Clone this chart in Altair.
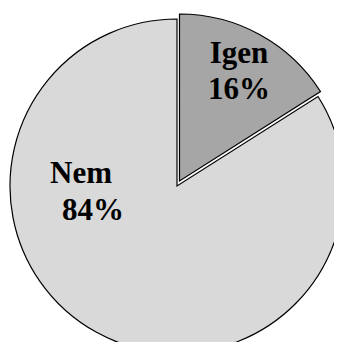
import altair as alt
import pandas as pd

categories = ["Igen", "Nem"]
values = [16, 84]
colors = ["#A6A6A6", "#D9D9D9"]

df = pd.DataFrame({"cat": categories, "val": values, "order": [0, 1]})

CX, CY, R = 169, 178, 167
FONT = "Liberation Serif"

base = alt.Chart(df).transform_joinaggregate(
    total="sum(val)"
).transform_window(
    cum="sum(val)", sort=[alt.SortField("order")]
).transform_calculate(
    start="(datum.cum - datum.val) / datum.total * 100",
    end="datum.cum / datum.total * 100",
    pct="format(datum.val / datum.total * 100, '.0f') + '%'",
)

theta_scale = alt.Scale(domain=[0, 100], range=[0, 6.283185307179586])
color_scale = alt.Scale(domain=categories, range=colors)

def arc(cat, xo, yo):
    return base.transform_filter(alt.datum.cat == cat).mark_arc(
        x=CX, y=CY, outerRadius=R, stroke="black", strokeWidth=1.2,
        xOffset=xo, yOffset=yo,
    ).encode(
        theta=alt.Theta("start:Q", scale=theta_scale),
        theta2="end:Q",
        color=alt.Color("cat:N", scale=color_scale, legend=None),
    )

def txt(cat, field, x, y):
    return base.transform_filter(alt.datum.cat == cat).mark_text(
        x=x, y=y, font=FONT, fontSize=31, fontWeight="bold",
        align="center", baseline="alphabetic", color="black",
    ).encode(text=f"{field}:N")

chart = alt.layer(
    arc("Nem", 0, 0),
    arc("Igen", 2.5, -5),
    txt("Igen", "cat", 231, 55),
    txt("Igen", "pct", 231, 91),
    txt("Nem", "cat", 73, 175),
    txt("Nem", "pct", 85, 212),
).properties(
    width=326, height=334, padding=0,
    autosize=alt.AutoSizeParams(type="none"),
).configure_view(stroke=None)

chart.save("out.html", embed_options={"renderer": "svg", "actions": False})
